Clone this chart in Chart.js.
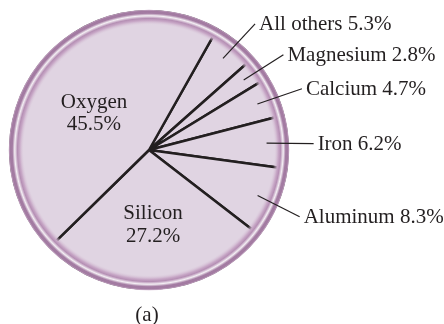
<!DOCTYPE html>
<html>
<head>
<meta charset="utf-8">
<script src="https://cdn.jsdelivr.net/npm/chart.js@4.4.1/dist/chart.umd.min.js"></script>
<style>
  html, body { margin: 0; padding: 0; background: #fff; }
  #wrap { width: 444px; height: 324px; }
</style>
</head>
<body>
<div id="wrap"><canvas id="pie"></canvas></div>
<script>
// composition of the earth's crust, clockwise from the top-right cut
const elements = ['All others', 'Magnesium', 'Calcium', 'Iron', 'Aluminum', 'Silicon', 'Oxygen'];
const percents = [5.3, 2.8, 4.7, 6.2, 8.3, 27.2, 45.5];
const insideLabels = ['Silicon', 'Oxygen'];
const startAngle = 29.4;
const caption = '(a)';

const inkColor = '#231f20';
const fillColor = '#e0d4e2';
const labelFont = '21px "Liberation Serif", "Times New Roman", serif';

// rim around the pie + the element labels
const ringAndLabels = {
  id: 'ringAndLabels',
  afterDatasetsDraw(chart) {
    const ctx = chart.ctx;
    const arcs = chart.getDatasetMeta(0).data;
    const cx = arcs[0].x, cy = arcs[0].y, r = arcs[0].outerRadius;
    const outer = r + 1.5, inner = outer - 15;

    ctx.save();
    const g = ctx.createRadialGradient(cx, cy, inner, cx, cy, outer);
    g.addColorStop(0, 'rgba(220,203,220,0)');
    g.addColorStop(0.27, '#c8a8c7');
    g.addColorStop(0.42, '#b58fb4');
    g.addColorStop(0.6, '#f4eff4');
    g.addColorStop(0.76, '#a47ca3');
    g.addColorStop(0.9, '#a27aa1');
    g.addColorStop(1, '#cbaeca');
    ctx.beginPath();
    ctx.arc(cx, cy, outer, 0, Math.PI * 2);
    ctx.arc(cx, cy, inner, 0, Math.PI * 2, true);
    ctx.fillStyle = g;
    ctx.fill();

    ctx.font = labelFont;
    ctx.fillStyle = inkColor;
    ctx.strokeStyle = inkColor;
    ctx.lineWidth = 1.2;
    ctx.textBaseline = 'alphabetic';
    arcs.forEach((arc, i) => {
      const mid = (arc.startAngle + arc.endAngle) / 2;
      const text = percents[i].toFixed(1) + '%';
      if (insideLabels.includes(elements[i])) {
        const lx = cx + Math.cos(mid) * r * 0.5, ly = cy + Math.sin(mid) * r * 0.5;
        ctx.textAlign = 'center';
        ctx.fillText(elements[i], lx, ly);
        ctx.fillText(text, lx, ly + 22.5);
      } else {
        // leader tilts a touch further round at its outer end
        const tip = mid + 0.02;
        const x1 = cx + Math.cos(mid) * (r - 21), y1 = cy + Math.sin(mid) * (r - 21);
        const x2 = cx + Math.cos(tip) * (r + 26), y2 = cy + Math.sin(tip) * (r + 26);
        ctx.beginPath();
        ctx.moveTo(x1, y1);
        ctx.lineTo(x2, y2);
        ctx.stroke();
        ctx.textAlign = 'left';
        ctx.fillText(elements[i] + ' ' + text, x2 + 4, y2 + 6);
      }
    });

    ctx.textAlign = 'center';
    ctx.fillText(caption, cx - 2, chart.height - 3);
    ctx.restore();
  }
};

new Chart(document.getElementById('pie'), {
  type: 'pie',
  data: {
    labels: elements,
    datasets: [{
      data: percents,
      backgroundColor: fillColor,
      borderColor: inkColor,
      borderWidth: 2.5
    }]
  },
  options: {
    responsive: true,
    maintainAspectRatio: false,
    animation: false,
    rotation: startAngle,
    layout: { padding: { left: 9, right: 155, top: 10, bottom: 34 } },
    plugins: {
      legend: { display: false },
      tooltip: { enabled: false }
    }
  },
  plugins: [ringAndLabels]
});
</script>
</body>
</html>
